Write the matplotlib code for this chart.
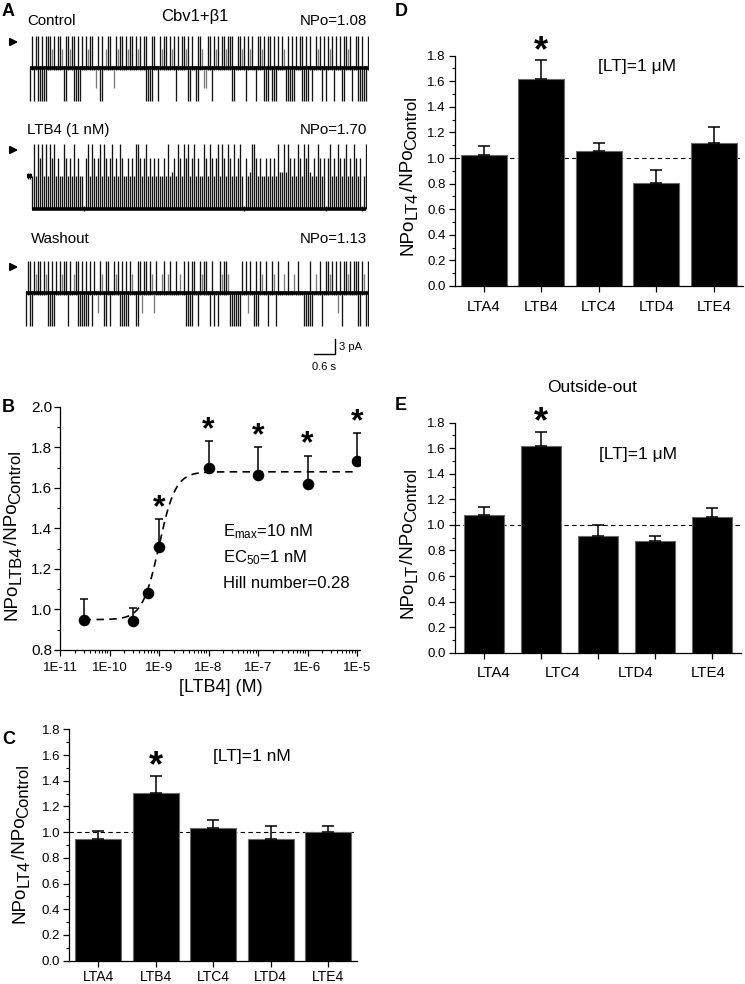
import numpy as np
import matplotlib
matplotlib.use('Agg')
import matplotlib.pyplot as plt
from matplotlib.patches import FancyArrowPatch
from matplotlib.ticker import MultipleLocator, LogLocator, NullFormatter

plt.rcParams['font.family'] = ['Liberation Sans', 'DejaVu Sans']
plt.rcParams['mathtext.fontset'] = 'custom'
plt.rcParams['mathtext.rm'] = 'Liberation Sans'
plt.rcParams['mathtext.it'] = 'Liberation Sans:italic'
plt.rcParams['mathtext.bf'] = 'Liberation Sans:bold'
plt.rcParams['mathtext.default'] = 'regular'

# ------------------------------------------------------------------ data
# Panel A: single-channel records, one code character per 2-px column
# ('.' one channel open, '^' closure spike, '-' partial closure, 'v' second
#  channel opening, 'd' partial opening, 'x' both, 'b' two open w/ flicker,
#  'h' two open w/ partial flicker, 'm'/'M' one open, '=' two open)
trace_names = ['Control', 'LTB4 (1 nM)', 'Washout']
trace_npo = ['NPo=1.08', 'NPo=1.70', 'NPo=1.13']
ctrl_code = ("v^v^xvxvx^" "^-^.^^-vx^" "-^xvxv^.^-" "^^.d^vx.-^" "^.d^-^^.^-"
             "^^.^-^.^xv" "vx^.v^-^^." "^-^v^.^^-x" "v^.vx^-dd^" "^v^-^.^^-^"
             "^xv.^^-^v^" "-^.v^^-xvx" "^vxv^.^-vx" "vxv^.^xvxv" "^v.^-^v^v^"
             "-^v^.^vx^-" "^v.^xvxvv^")
ltb4_code = ("mmbxbxhxbx" "bxhxbhbbxh" "bhbxbhbb=h" "xbxhbhxbxh" "bhxbhbxhbb"
             "hbhbxxhbhx" "bhbhbhbbhb" "xbMhbxhbxh" "xbhxbhbbxh" "bxhbhxbxhb"
             "xhbxbhxb=h" "bMxxhbhbbh" "bhbhbxMMxM" "xhbhbxhbxh" "xMbhbxhbh="
             "hxbhbxhbhx" "bhbxhbh=bx")
wash_code = ("v^xv^-^^.^" "-xvxv^.^-^" "^v^.-^xvxv" "xv^v^.d^-v" "x^v.^-^vxv"
             "xv^-.vx^d^" "^.^-d^..-^" ".-^..^.-.^" "vxvx^.v^-^" "^.v^v.v^-^"
             "^-bbbbbb^." "^d^.vxv^-." "^v.^-v^..-" ".^..-.^..v" "vvxv.-.^v."
             "^^-^.^d^v^" "^-^.^^xv^-" "vx")
col_dt = 0.057          # s per code column
unit_current = 6.5      # pA, single-channel amplitude
scale_t = 0.6           # s
scale_i = 3.0           # pA

# Panel B: concentration-response
conc_b = [3e-11, 3e-10, 6e-10, 1e-9, 1e-8, 1e-7, 1e-6, 1e-5]
ratio_b = [0.95, 0.945, 1.08, 1.31, 1.70, 1.665, 1.62, 1.735]
err_b = [0.10, 0.063, 0.0, 0.135, 0.13, 0.135, 0.14, 0.135]
sig_b = [False, False, False, True, True, True, True, True]
fit_bottom, fit_top, fit_log_ec50, fit_slope = 0.95, 1.68, -9.0, 2.6
b_xticks = [1e-11, 1e-10, 1e-9, 1e-8, 1e-7, 1e-6, 1e-5]
b_xticklabels = ['1E-11', '1E-10', '1E-9', '1E-8', '1E-7', '1E-6', '1E-5']
b_notes = ['E$_{max}$=10 nM', 'EC$_{50}$=1 nM', 'Hill number=0.28']

# Panels C, D, E
lt_names = ['LTA4', 'LTB4', 'LTC4', 'LTD4', 'LTE4']
c_vals = [0.95, 1.307, 1.035, 0.945, 1.004]
c_err = [0.062, 0.13, 0.06, 0.106, 0.04]
d_vals = [1.021, 1.62, 1.057, 0.807, 1.115]
d_err = [0.073, 0.143, 0.063, 0.097, 0.13]
e_vals = [1.078, 1.62, 0.916, 0.872, 1.065]
e_err = [0.06, 0.11, 0.084, 0.041, 0.065]
e_labels = ['LTA4', 'LTC4', 'LTD4', 'LTE4']
e_label_pos = [0.17, 1.38, 2.65, 3.92]
sig_bar = 1  # index of starred bar

# ------------------------------------------------------------------ layout
W, H = 745, 984
fig = plt.figure(figsize=(W / 100, H / 100), dpi=100)


def box(x0, y0, x1, y1):
    return [x0 / W, 1 - y1 / H, (x1 - x0) / W, (y1 - y0) / H]


def ftext(x, y, s, **kw):
    return fig.text(x / W, 1 - y / H, s, **kw)


level_map = {
    '.': (-0.07, 0.07), '-': (-0.07, 0.6), '^': (-0.07, 1.0),
    'd': (-0.6, 0.07), 'v': (-1.0, 0.07), 'x': (-1.0, 1.0),
    'b': (-1.0, 0.0), 'h': (-1.0, 0.55), '=': (-1.07, -0.93),
    'm': (-0.1, 0.1), 'M': (-1.0, 0.12),
}


def draw_trace(code, x_start, mid_y, base_level, lw, gray_chars):
    n = len(code)
    ax = fig.add_axes(box(x_start, mid_y - 40, x_start + 2 * n, mid_y + 40))
    ax.set_xlim(0, n * col_dt)
    ax.set_ylim(-8, 8)
    ax.axis('off')
    t = (np.arange(n) + 0.5) * col_dt
    lo = np.array([level_map[c][0] for c in code]) * unit_current
    hi = np.array([level_map[c][1] for c in code]) * unit_current
    cols = ['#7a7a7a' if c in gray_chars else '#141414' for c in code]
    ax.vlines(t, lo, hi, colors=cols, lw=lw)
    mask = np.array([c not in 'm' for c in code])
    ax.plot(t[mask], np.full(mask.sum(), base_level * unit_current),
            color='black', lw=2.6, solid_capstyle='butt')
    mmask = np.array([c == 'm' for c in code])
    if mmask.any():
        ax.plot(t[mmask], np.zeros(mmask.sum()), color='black', lw=3.0)
    return ax


# ---------------- Panel A
ftext(2, 12, 'A', fontsize=13, fontweight='bold', va='center')
ftext(195, 16, 'Cbv1+β1', fontsize=12, ha='center', va='center')
label_y = [21, 130, 239]
label_x = [27, 27, 31]
for i in range(3):
    ftext(label_x[i], label_y[i], trace_names[i], fontsize=10.8, va='center')
    ftext(367, label_y[i], trace_npo[i], fontsize=10.8, va='center', ha='right')

draw_trace(ctrl_code, 29, 68, 0, 0.95, '-d')
draw_trace(ltb4_code, 27, 176, -1, 0.95, '')
axw = draw_trace(wash_code, 25, 293, 0, 0.95, '-d')

for ay in [42, 150, 267]:
    fig.add_artist(FancyArrowPatch((7 / W, 1 - ay / H), (21 / W, 1 - ay / H),
                                   transform=fig.transFigure, arrowstyle='-|>',
                                   mutation_scale=11, lw=1.4, color='black'))

# scale bar (in washout axes data units)
sb_t_end = (335 - 25) * col_dt / 2
sb_i_top = -(339 - 293) / 5
axw.plot([sb_t_end - scale_t, sb_t_end, sb_t_end],
         [sb_i_top - scale_i, sb_i_top - scale_i, sb_i_top],
         color='black', lw=1.0, clip_on=False)
axw.text(sb_t_end + 0.12, sb_i_top - scale_i / 2, f'{scale_i:g} pA',
         fontsize=8, va='center', ha='left', clip_on=False)
axw.text(sb_t_end - scale_t - 0.05, sb_i_top - scale_i - 1.6, f'{scale_t:g} s',
         fontsize=8, va='top', ha='left', clip_on=False)


# ---------------- rotated y labels with near full-size subscripts
def rot_label(x_base, y_bottom, pieces):
    renderer = fig.canvas.get_renderer()
    y_disp = H - y_bottom
    for s, size, shift in pieces:
        t = fig.text((x_base + shift) / W, y_disp / H, s, fontsize=size,
                     rotation=90, rotation_mode='anchor', ha='left', va='baseline')
        bb = t.get_window_extent(renderer)
        y_disp = bb.y1


def sub_pieces(sub):
    return [('NPo', 13.5, 0), (sub, 12, 3.5), ('/NPo', 13.5, 0), ('Control', 12, 3.5)]


def style_axis(ax, ytick_fs, xtick_fs, ypad, xpad):
    for s in ['top', 'right']:
        ax.spines[s].set_visible(False)
    for s in ['left', 'bottom']:
        ax.spines[s].set_linewidth(0.9)
    ax.tick_params(which='major', direction='out', length=4, width=0.9)
    ax.tick_params(which='minor', direction='out', length=2.3, width=0.8)
    ax.tick_params(axis='y', labelsize=ytick_fs, pad=ypad)
    ax.tick_params(axis='x', labelsize=xtick_fs, pad=xpad)


# ---------------- Panel B
ftext(2, 407, 'B', fontsize=13, fontweight='bold', va='center')
axB = fig.add_axes(box(60, 407, 360, 650))
axB.set_xscale('log')
axB.set_xlim(1e-11, 10 ** (-11 + 300 / 49.5))
axB.set_ylim(0.8, 2.0)
axB.set_xticks(b_xticks, b_xticklabels)
axB.xaxis.set_minor_locator(LogLocator(base=10, subs=np.arange(2, 10), numticks=20))
axB.xaxis.set_minor_formatter(NullFormatter())
axB.yaxis.set_major_locator(MultipleLocator(0.2))
axB.yaxis.set_minor_locator(MultipleLocator(0.1))
axB.yaxis.set_major_formatter(matplotlib.ticker.FormatStrFormatter('%.1f'))
style_axis(axB, 11, 9.5, 1.5, 4.5)

xs = np.logspace(np.log10(conc_b[0]), np.log10(conc_b[-1]), 400)
ys = fit_bottom + (fit_top - fit_bottom) / (1 + 10 ** ((fit_log_ec50 - np.log10(xs)) * fit_slope))
axB.plot(xs, ys, color='black', lw=1.2, ls=(0, (4.5, 3.2)))
axB.errorbar(conc_b, ratio_b, yerr=[np.zeros(len(err_b)), err_b], fmt='o', ms=7.3,
             color='black', ecolor='black', elinewidth=1.1, capsize=3, capthick=1.1,
             zorder=3)
for c, r, e, s in zip(conc_b, ratio_b, err_b, sig_b):
    if s:
        axB.text(c, r + e + 0.015, '*', fontsize=23, fontweight='bold',
                 ha='center', va='baseline')
for k, note in enumerate(b_notes):
    ftext(223, 532 + 25.5 * k, note, fontsize=12, va='center')
ftext(221, 687, '[LTB4] (M)', fontsize=13, ha='center', va='center')
rot_label(17, 620, sub_pieces('LTB4'))


# ---------------- bar panels
def bar_panel(bx, vals, errs, width, xtick_fs, xpad):
    ax = fig.add_axes(box(*bx))
    x = np.arange(len(vals))
    ax.axhline(1.0, color='black', lw=0.8, ls=(0, (4, 3)), zorder=0)
    ax.bar(x, vals, width=width, color='black', edgecolor='#6a6a6a', lw=0.8, zorder=2)
    ax.errorbar(x, vals, yerr=[np.zeros(len(errs)), errs], fmt='none', ecolor='black',
                elinewidth=1.1, capsize=4, capthick=1.1, zorder=3)
    ax.set_xlim(-0.5, 4.5)
    ax.set_ylim(0, 1.8)
    ax.yaxis.set_major_locator(MultipleLocator(0.2))
    ax.yaxis.set_minor_locator(MultipleLocator(0.1))
    ax.yaxis.set_major_formatter(matplotlib.ticker.FormatStrFormatter('%.1f'))
    style_axis(ax, 9.5, xtick_fs, 2.6, xpad)
    ax.text(sig_bar, vals[sig_bar] + errs[sig_bar] - 0.005, '*', fontsize=26,
            fontweight='bold', ha='center', va='baseline')
    return ax


# Panel C
ftext(2, 740, 'C', fontsize=13, fontweight='bold', va='center')
axC = bar_panel((69.3, 729.3, 357, 960.7), c_vals, c_err, 0.8, 10, 3.0)
axC.set_xticks(np.arange(5), lt_names)
ftext(252, 756, '[LT]=1 nM', fontsize=12.5, ha='center', va='center')
rot_label(25, 923, sub_pieces('LT4'))

# Panel D
ftext(395, 11, 'D', fontsize=13, fontweight='bold', va='center')
axD = bar_panel((455, 55.7, 742.5, 286), d_vals, d_err, 0.8, 10.8, 6)
axD.set_xticks(np.arange(5), lt_names)
ftext(637, 66, '[LT]=1 μM', fontsize=12.5, ha='center', va='center')
rot_label(413, 255, sub_pieces('LT4'))

# Panel E
ftext(395, 405, 'E', fontsize=13, fontweight='bold', va='center')
axE = bar_panel((455, 422.7, 741, 652.7), e_vals, e_err, 0.7, 10.8, 5.5)
axE.set_xticks(np.arange(5), [''] * 5)
axE.set_xticks(e_label_pos, e_labels, minor=True)
axE.yaxis.set_minor_locator(MultipleLocator(0.1))
axE.tick_params(axis='x', which='minor', length=0, labelsize=10.8, pad=9.5)
ftext(592, 387, 'Outside-out', fontsize=12.5, ha='center', va='center')
ftext(638, 455, '[LT]=1 μM', fontsize=12.5, ha='center', va='center')
rot_label(413, 618, sub_pieces('LT'))

fig.savefig('out.png', dpi=100)
